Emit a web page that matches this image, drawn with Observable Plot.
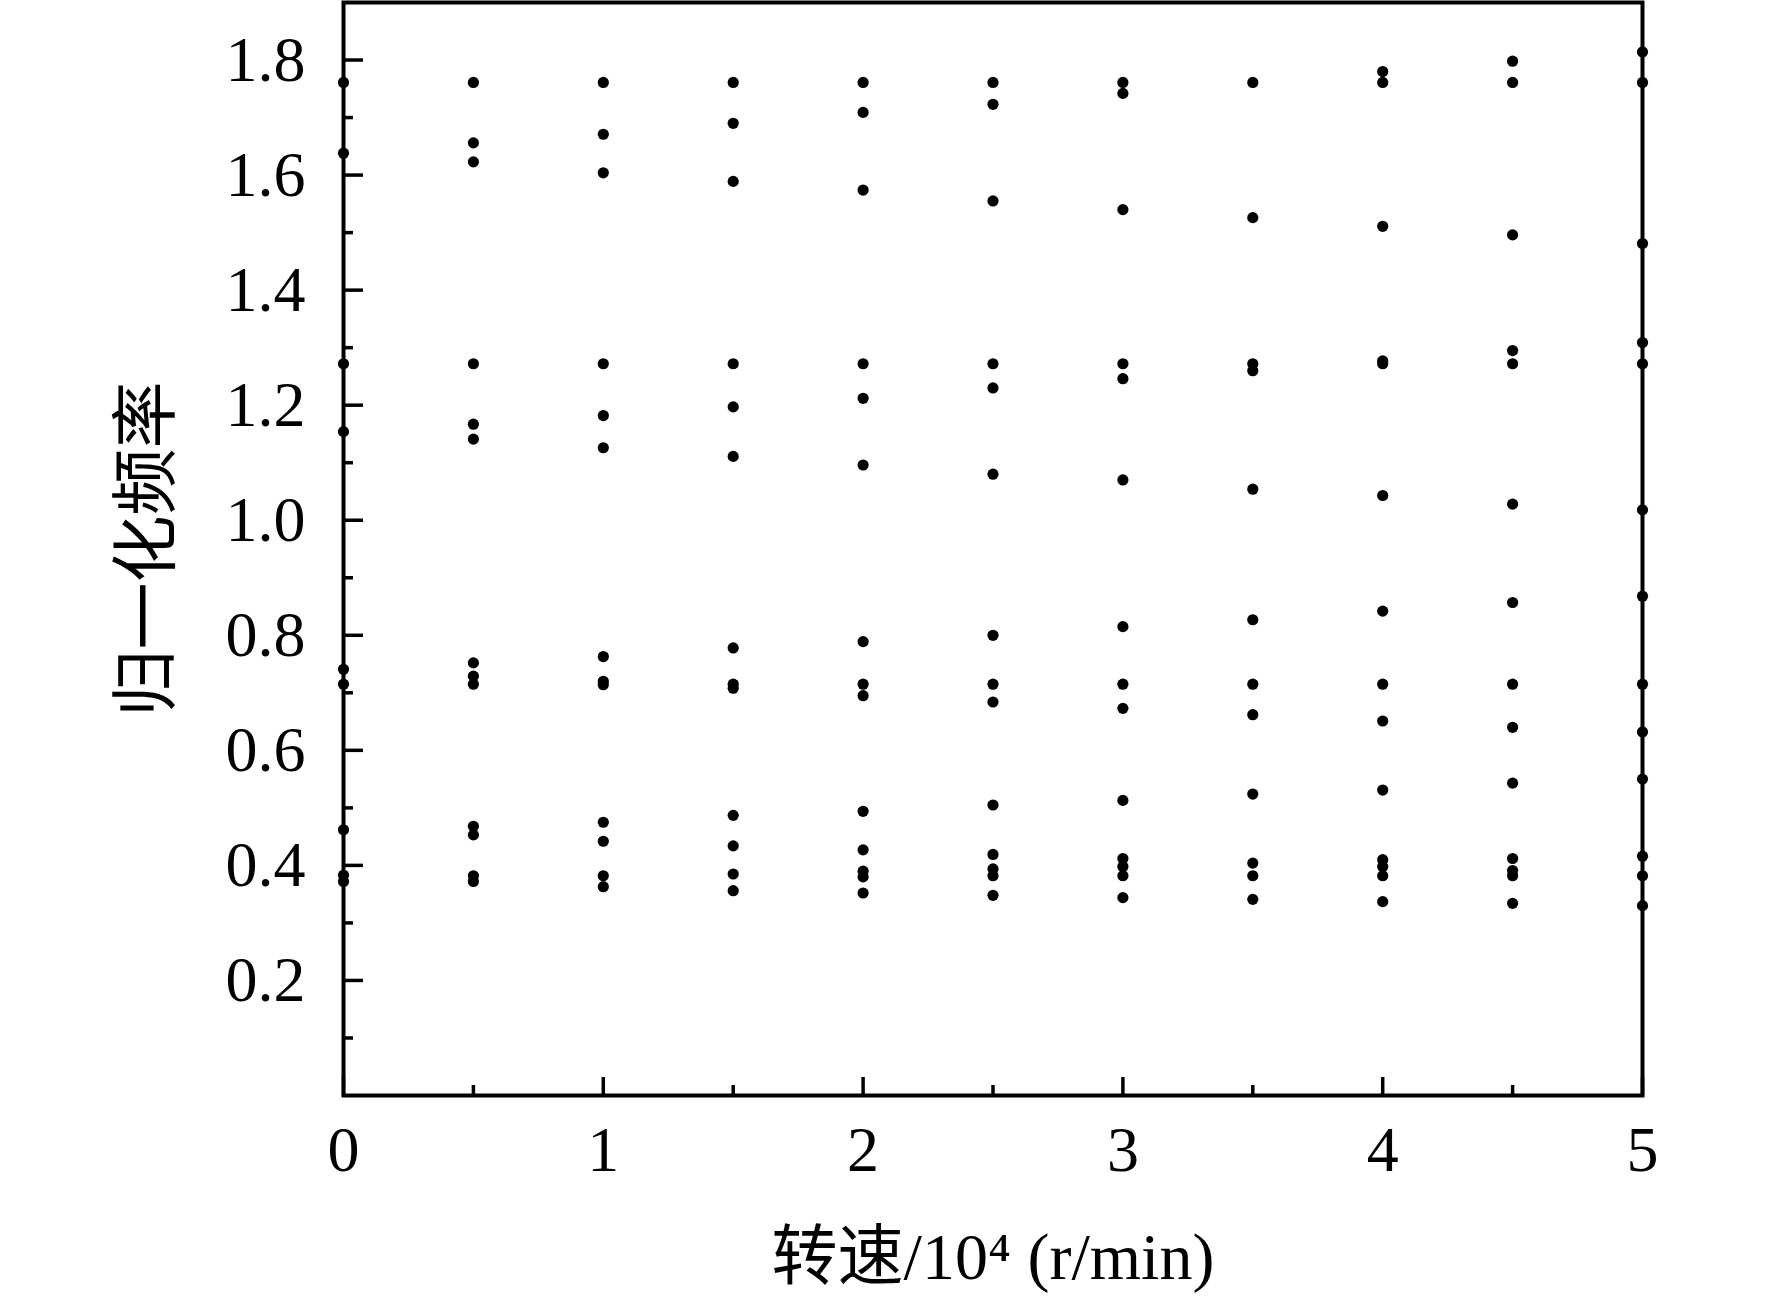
<!DOCTYPE html>
<html><head><meta charset="utf-8">
<script src="https://cdn.jsdelivr.net/npm/d3@7"></script>
<script src="https://cdn.jsdelivr.net/npm/@observablehq/plot@0.6"></script>
<style>html,body{margin:0;padding:0;background:#fff}#chart svg{display:block}</style>
</head><body><div id="chart"></div>
<script>
// Rotational speed (×10^4 r/min) columns
const speeds = [0, 0.5, 1, 1.5, 2, 2.5, 3, 3.5, 4, 4.5, 5];
// Normalized frequencies read at each speed
const freqAt0   = [1.761, 1.638, 1.272, 1.154, 0.741, 0.715, 0.462, 0.383, 0.372];
const freqAt0_5 = [1.761, 1.656, 1.623, 1.272, 1.167, 1.141, 0.752, 0.729, 0.715, 0.468, 0.453, 0.382, 0.372];
const freqAt1   = [1.761, 1.671, 1.604, 1.272, 1.182, 1.126, 0.763, 0.720, 0.714, 0.475, 0.442, 0.382, 0.363];
const freqAt1_5 = [1.761, 1.690, 1.589, 1.272, 1.197, 1.111, 0.778, 0.715, 0.708, 0.487, 0.434, 0.385, 0.356];
const freqAt2   = [1.761, 1.709, 1.574, 1.272, 1.212, 1.096, 0.789, 0.715, 0.695, 0.494, 0.427, 0.390, 0.380, 0.352];
const freqAt2_5 = [1.761, 1.723, 1.555, 1.272, 1.230, 1.080, 0.800, 0.715, 0.684, 0.505, 0.419, 0.394, 0.382, 0.348];
const freqAt3   = [1.761, 1.742, 1.540, 1.272, 1.246, 1.070, 0.815, 0.715, 0.673, 0.513, 0.412, 0.398, 0.382, 0.344];
const freqAt3_5 = [1.761, 1.526, 1.272, 1.260, 1.054, 0.827, 0.715, 0.662, 0.524, 0.404, 0.382, 0.341];
const freqAt4   = [1.780, 1.761, 1.511, 1.277, 1.272, 1.043, 0.842, 0.715, 0.651, 0.531, 0.410, 0.398, 0.382, 0.337];
const freqAt4_5 = [1.798, 1.761, 1.496, 1.295, 1.272, 1.028, 0.857, 0.715, 0.640, 0.543, 0.412, 0.391, 0.382, 0.334];
const freqAt5   = [1.814, 1.761, 1.481, 1.309, 1.272, 1.018, 0.868, 0.715, 0.632, 0.550, 0.416, 0.382, 0.330];
const freqColumns = [freqAt0, freqAt0_5, freqAt1, freqAt1_5, freqAt2, freqAt2_5, freqAt3, freqAt3_5, freqAt4, freqAt4_5, freqAt5];

const xMajorTicks = [0, 1, 2, 3, 4, 5];
const xMinorTicks = [0.5, 1.5, 2.5, 3.5, 4.5];
const yMajorTicks = [0.2, 0.4, 0.6, 0.8, 1.0, 1.2, 1.4, 1.6, 1.8];
const yMinorTicks = [0.1, 0.3, 0.5, 0.7, 0.9, 1.1, 1.3, 1.5, 1.7];
const xLabel = "转速/10⁴ (r/min)";
const yLabel = "归一化频率";

const points = speeds.flatMap((s, i) => freqColumns[i].map(f => ({speed: s, freq: f})));

const chart = Plot.plot({
  width: 1772, height: 1299,
  marginLeft: 343, marginRight: 130, marginTop: 2, marginBottom: 204,
  x: {domain: [0, 5]},
  y: {domain: [0, 1.9]},
  style: {fontFamily: "'Liberation Serif', 'Noto Sans CJK SC', serif", color: "black", background: "white"},
  marks: [
    Plot.axisX({ticks: xMinorTicks, tickSize: -10, tickFormat: () => "", label: null, strokeWidth: 3.5}),
    Plot.axisX({ticks: xMajorTicks, tickSize: -18, tickPadding: 48, fontSize: 64, label: null, strokeWidth: 3.5, tickFormat: d => String(d)}),
    Plot.axisY({ticks: yMinorTicks, tickSize: -10, tickFormat: () => "", label: null, strokeWidth: 3.5}),
    Plot.axisY({ticks: yMajorTicks, tickSize: -20, tickPadding: 58, fontSize: 64, label: null, strokeWidth: 3.5, tickFormat: d => d.toFixed(1)}),
    Plot.frame({stroke: "black", strokeWidth: 4}),
    Plot.dot(points, {x: "speed", y: "freq", r: 5.6, fill: "black", stroke: null}),
    Plot.text([xLabel], {text: d => d, frameAnchor: "bottom", dy: 162, fontSize: 66, textAnchor: "middle", lineAnchor: "middle", fill: "black"}),
    Plot.text([yLabel], {text: d => d, frameAnchor: "left", dx: -196, rotate: -90, fontSize: 67, textAnchor: "middle", lineAnchor: "middle", fill: "black"})
  ]
});
document.getElementById("chart").appendChild(chart);
</script>
</body></html>
